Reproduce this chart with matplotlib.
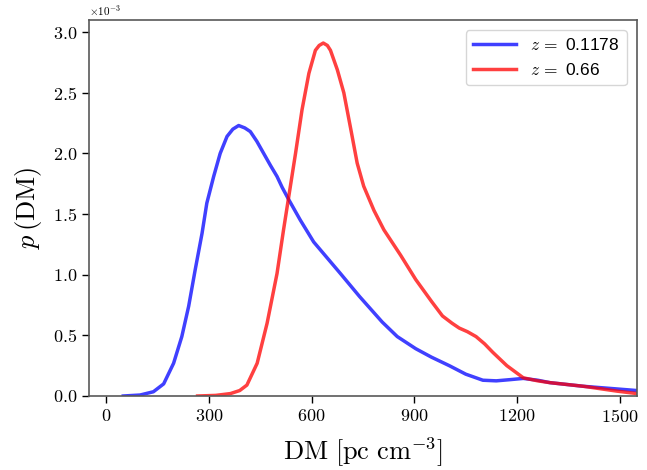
import matplotlib
matplotlib.use("Agg")
import matplotlib.pyplot as plt

# Data, DM in pc cm^-3, p in units of 1e-3
dm_blue = [50, 99, 138, 168, 197, 221, 241, 260, 280, 294, 314, 333, 353, 370, 387, 405,
           421, 440, 460, 480, 499, 514, 533, 567, 606, 645, 684, 740, 806, 850, 904, 950,
           1002, 1050, 1100, 1139, 1180, 1218, 1260, 1296, 1394, 1492, 1550]
p_blue = [0.0, 0.008, 0.035, 0.10, 0.27, 0.49, 0.74, 1.04, 1.34, 1.59, 1.81, 2.00, 2.14, 2.20,
          2.23, 2.21, 2.18, 2.10, 2.00, 1.90, 1.81, 1.72, 1.62, 1.45, 1.27, 1.14, 1.01, 0.82,
          0.61, 0.49, 0.39, 0.32, 0.25, 0.18, 0.13, 0.125, 0.135, 0.145, 0.13, 0.11, 0.08,
          0.058, 0.045]

dm_red = [267, 320, 363, 390, 411, 441, 470, 499, 518, 533, 553, 572, 592, 611, 622, 634,
          646, 655, 675, 694, 715, 733, 752, 782, 811, 860, 904, 950, 982, 1010, 1031, 1055,
          1080, 1105, 1129, 1170, 1218, 1260, 1296, 1394, 1492, 1550]
p_red = [0.0, 0.005, 0.02, 0.045, 0.09, 0.27, 0.60, 1.01, 1.37, 1.64, 2.00, 2.36, 2.66, 2.85,
         2.89, 2.91, 2.89, 2.85, 2.69, 2.50, 2.19, 1.92, 1.73, 1.53, 1.37, 1.16, 0.96, 0.78,
         0.66, 0.60, 0.56, 0.53, 0.49, 0.43, 0.36, 0.25, 0.15, 0.125, 0.11, 0.08, 0.04, 0.02]

labels = [r"$z\,=$ 0.1178", r"$z\,=$ 0.66"]
xticks = [0, 300, 600, 900, 1200, 1500]

plt.rcParams["mathtext.fontset"] = "cm"
plt.rcParams["font.family"] = "serif"
plt.rcParams["font.serif"] = ["cmr10", "DejaVu Serif"]
plt.rcParams["axes.formatter.use_mathtext"] = True
plt.rcParams["axes.unicode_minus"] = False

fig = plt.figure(figsize=(6.47, 4.70), dpi=100)
ax = fig.add_axes([89/647, 1-396/470, (637-89)/647, (396-20)/470])

scale = 1e-3
ax.plot(dm_blue, [v*scale for v in p_blue], color="blue", alpha=0.75, lw=2.5,
        label=labels[0], solid_joinstyle="round")
ax.plot(dm_red, [v*scale for v in p_red], color="red", alpha=0.75, lw=2.5,
        label=labels[1], solid_joinstyle="round")

ax.set_xlim(-50, 1550)
ax.set_ylim(0, 3.1e-3)
ax.set_xticks(xticks)
ax.set_yticks([i*0.5e-3 for i in range(7)])
ax.ticklabel_format(axis="y", style="sci", scilimits=(0, 0))
ax.yaxis.get_offset_text().set_fontsize(8)

ax.tick_params(direction="out", length=5, width=1, labelsize=13, colors="black")
for s in ax.spines.values():
    s.set_color("0.35")
    s.set_linewidth(1.2)

ax.set_xlabel(r"$\mathrm{DM}\ [\mathrm{pc\ cm}^{-3}]$", fontsize=19, labelpad=8)
ax.set_ylabel(r"$p\,(\mathrm{DM})$", fontsize=19, labelpad=6)

leg = ax.legend(loc="upper right", prop={"family": ["Liberation Sans", "DejaVu Sans"], "size": 12.5},
                frameon=True, fancybox=True, handlelength=2.5, borderaxespad=0.6)
leg.get_frame().set_edgecolor("0.8")

fig.savefig("out.png", dpi=100)
